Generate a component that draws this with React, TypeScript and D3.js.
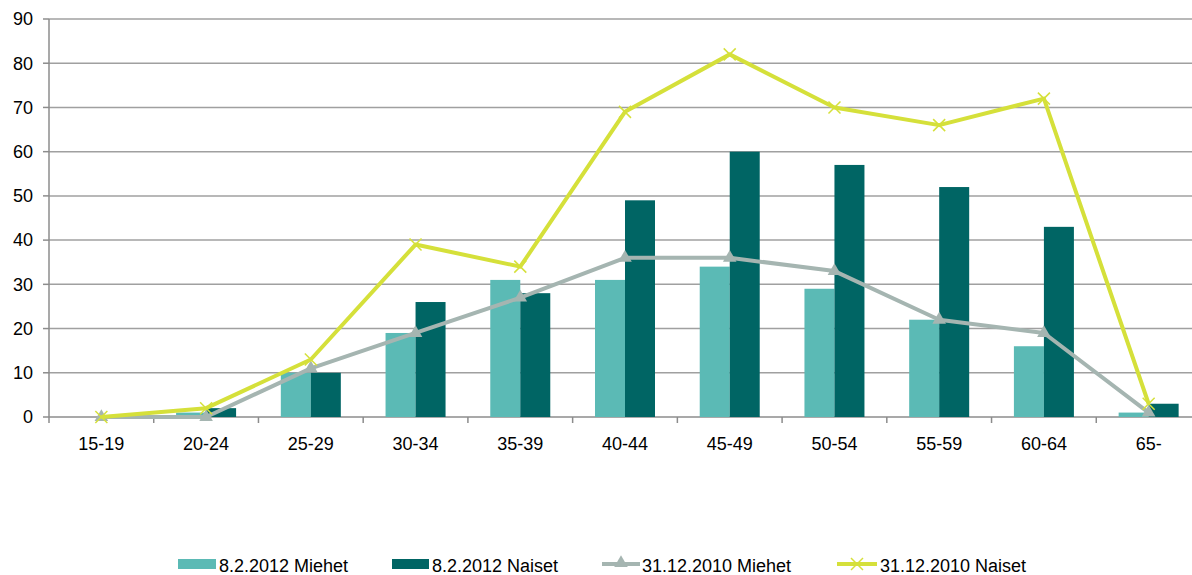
import React from "react";
import * as d3 from "d3";

const categories = ["15-19", "20-24", "25-29", "30-34", "35-39", "40-44", "45-49", "50-54", "55-59", "60-64", "65-"];
const miehet2012 = [0, 1, 10, 19, 31, 31, 34, 29, 22, 16, 1];
const naiset2012 = [0, 2, 10, 26, 28, 49, 60, 57, 52, 43, 3];
const miehet2010 = [0, 0, 11, 19, 27, 36, 36, 33, 22, 19, 1];
const naiset2010 = [0, 2, 13, 39, 34, 69, 82, 70, 66, 72, 3];
const yTicks = [0, 10, 20, 30, 40, 50, 60, 70, 80, 90];
const legendLabels = ["8.2.2012 Miehet", "8.2.2012 Naiset", "31.12.2010 Miehet", "31.12.2010 Naiset"];

const W = 1192;
const H = 575;
const C_LIGHT = "#5BBAB5";
const C_DARK = "#006564";
const C_GRAY = "#A5B5B1";
const C_YEL = "#D5E03A";
const FONT = "'Liberation Sans', Arial, sans-serif";
const FS = 18;

export default function App() {
  const x = d3.scaleBand<string>().domain(categories).range([49, 1201]).padding(0);
  const y = d3.scaleLinear().domain([0, 90]).range([417, 19]);
  const barW = 30;
  const cx = (c: string) => (x(c) as number) + x.bandwidth() / 2;

  const line = d3
    .line<number>()
    .x((_, i) => cx(categories[i]))
    .y((d) => y(d));

  const tri = d3.symbol().type(d3.symbolTriangle).size(80)();

  const ly = 564;

  return (
    <svg width={W} height={H} style={{ position: "absolute", left: 0, top: 0, background: "#fff" }} fontFamily={FONT}>
      {/* gridlines */}
      {yTicks.map((t) => (
        <line key={"g" + t} x1={49} x2={1201} y1={y(t)} y2={y(t)} stroke={t === 0 ? "#8C8C8C" : "#A0A0A0"} strokeWidth={1.5} />
      ))}
      {/* y axis */}
      <line x1={49} x2={49} y1={19} y2={417} stroke="#8C8C8C" strokeWidth={1.5} />
      {yTicks.map((t) => (
        <g key={"yt" + t}>
          <line x1={43} x2={49} y1={y(t)} y2={y(t)} stroke="#8C8C8C" strokeWidth={1.5} />
          <text x={33} y={y(t)} dy="0.35em" textAnchor="end" fontSize={FS} fill="#000">
            {t}
          </text>
        </g>
      ))}
      {/* x ticks */}
      {categories.map((c) => (
        <line key={"xt" + c} x1={x(c) as number} x2={x(c) as number} y1={417} y2={423} stroke="#8C8C8C" strokeWidth={1.5} />
      ))}
      {categories.map((c) => (
        <text key={"xl" + c} x={cx(c)} y={443.5} dy="0.35em" textAnchor="middle" fontSize={FS} fill="#000">
          {c}
        </text>
      ))}
      {/* bars */}
      {categories.map((c, i) => (
        <g key={"b" + c}>
          <rect x={cx(c) - barW} y={y(miehet2012[i])} width={barW} height={y(0) - y(miehet2012[i])} fill={C_LIGHT} />
          <rect x={cx(c)} y={y(naiset2012[i])} width={barW} height={y(0) - y(naiset2012[i])} fill={C_DARK} />
        </g>
      ))}
      {/* gray line */}
      <path d={line(miehet2010) || ""} fill="none" stroke={C_GRAY} strokeWidth={4} strokeLinejoin="round" />
      {miehet2010.map((v, i) => (
        <path key={"m" + i} d={tri || ""} transform={`translate(${cx(categories[i])},${y(v)})`} fill={C_GRAY} />
      ))}
      {/* yellow line */}
      <path d={line(naiset2010) || ""} fill="none" stroke={C_YEL} strokeWidth={4} strokeLinejoin="round" />
      {naiset2010.map((v, i) => {
        const px = cx(categories[i]);
        const py = y(v);
        const s = 6;
        return (
          <g key={"n" + i} stroke={C_YEL} strokeWidth={1.5}>
            <line x1={px - s} y1={py - s} x2={px + s} y2={py + s} />
            <line x1={px - s} y1={py + s} x2={px + s} y2={py - s} />
          </g>
        );
      })}
      {/* legend */}
      <rect x={178} y={559} width={38} height={10} fill={C_LIGHT} />
      <text x={219} y={ly + 2} dy="0.35em" fontSize={FS} fill="#000">{legendLabels[0]}</text>
      <rect x={392} y={559} width={37} height={10} fill={C_DARK} />
      <text x={432} y={ly + 2} dy="0.35em" fontSize={FS} fill="#000">{legendLabels[1]}</text>
      <line x1={602} x2={640} y1={ly} y2={ly} stroke={C_GRAY} strokeWidth={4} />
      <path d={tri || ""} transform={`translate(621,${ly - 1})`} fill={C_GRAY} />
      <text x={642} y={ly + 2} dy="0.35em" fontSize={FS} fill="#000">{legendLabels[2]}</text>
      <line x1={837} x2={877} y1={ly} y2={ly} stroke={C_YEL} strokeWidth={4} />
      <g stroke={C_YEL} strokeWidth={1.5}>
        <line x1={851} y1={ly - 6} x2={863} y2={ly + 6} />
        <line x1={851} y1={ly + 6} x2={863} y2={ly - 6} />
      </g>
      <text x={880} y={ly + 2} dy="0.35em" fontSize={FS} fill="#000">{legendLabels[3]}</text>
    </svg>
  );
}
